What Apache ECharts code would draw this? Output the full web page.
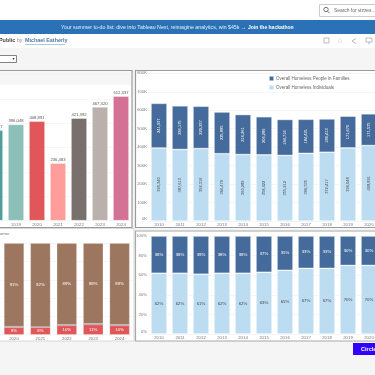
<!DOCTYPE html>
<html>
<head>
<meta charset="utf-8">
<style>
html, body { margin: 0; padding: 0; background: #fff; overflow: hidden; }
#main { width: 375px; height: 375px; }
</style>
<script src="https://cdn.jsdelivr.net/npm/echarts@6/dist/echarts.min.js"></script>
</head>
<body>
<div id="main"></div>
<script>
var font = '"Liberation Sans", Arial, sans-serif';

// top left: overall homeless individuals by year
var totalYears = ['2018', '2019', '2020', '2021', '2022', '2023', '2024'];
var totalValues = [372417, 396048, 408891, 236483, 421392, 467320, 512337];
var totalColors = ['#4e9f9b', '#8bbfb8', '#e15759', '#ff9d9a', '#79706e', '#bab0ac', '#d37295'];

// bottom left: share by year
var shareYears = ['2020', '2021', '2022', '2023', '2024'];
var shareRed = [8, 8, 10, 11, 10];
var shareGrey = [1, 0.5, 1, 1, 1];
var shareBrown = [91, 91.5, 89, 88, 89];

// right: individuals and people in families
var years = ['2010', '2011', '2012', '2013', '2014', '2015', '2016', '2017', '2018', '2019', '2020'];
var individuals = [395340, 387613, 392316, 364479, 360289, 358422, 355212, 366535, 372417, 396048, 408891];
var families = [241937, 236175, 229237, 225885, 216261, 206286, 194716, 184421, 180413, 171670, 171575];
var individualsPct = [62, 62, 61, 62, 62, 63, 65, 67, 67, 70, 70];
var familiesPct = [38, 38, 39, 38, 38, 37, 35, 33, 33, 30, 30];

var familyName = 'Overall Homeless People in Families';
var singleName = 'Overall Homeless Individuals';
var familyColor = '#456b9c';
var singleColor = '#bcdcf1';

function thousands(p) {
    return String(p.value).replace(/\B(?=(\d{3})+$)/g, ',');
}

function percent(p) {
    return Math.round(p.value) + '%';
}

function kilo(v) {
    return (v / 1000) + 'K';
}

function rect(x, y, w, h, fill, stroke, lineWidth) {
    return {
        type: 'rect', z: -10, silent: true,
        shape: { x: x, y: y, width: w, height: h },
        style: { fill: fill, stroke: stroke || null, lineWidth: lineWidth || 0 }
    };
}

function text(x, y, str, size, color, weight) {
    return {
        type: 'text', z: 10, silent: true, x: x, y: y,
        style: {
            text: str, fill: color, font: (weight || 'normal') + ' ' + size + 'px ' + font,
            textVerticalAlign: 'middle'
        }
    };
}

function line(x1, y1, x2, y2, color, width) {
    return {
        type: 'line', z: 10, silent: true,
        shape: { x1: x1, y1: y1, x2: x2, y2: y2 },
        style: { stroke: color, lineWidth: width || 1 }
    };
}

var graphics = [
    rect(0, 0, 375, 375, '#ffffff'),
    rect(0, 48, 375, 327, '#f5f5f5'),
    // search box
    rect(319.5, 4.5, 60, 12, '#ffffff', '#cccccc', 1),
    { type: 'circle', z: 10, silent: true, shape: { cx: 326, cy: 9.5, r: 2.2 }, style: { fill: 'none', stroke: '#555', lineWidth: 0.8 } },
    line(327.6, 11.2, 329.5, 13.2, '#555', 0.8),
    text(334, 10.5, 'Search for vizzes...', 4.9, '#666666'),
    // banner
    rect(0, 20, 375, 14, '#2a72b5'),
    text(61, 27.5, 'Your summer to-do list: dive into Tableau Next, reimagine analytics, win $45k \u2192', 5.25, '#e6f0f8'),
    text(248, 27.5, 'Join the hackathon', 5, '#ffffff', 'bold'),
    // title row
    text(-1, 41, 'Public', 5.4, '#444444', 'bold'),
    text(17, 41, 'by', 5, '#888888'),
    text(25, 41, 'Michael Eatherly', 5.4, '#4d7da8', 'bold'),
    line(25, 44.5, 65, 44.5, '#7fa3c4', 0.6),
    rect(324, 38, 5, 5, 'none', '#aaaaaa', 0.8),
    text(337, 41, '\u2606', 7, '#aaaaaa'),
    line(352, 41, 356, 38.5, '#aaaaaa', 0.8),
    line(352, 41, 356, 43.5, '#aaaaaa', 0.8),
    rect(366, 38, 6, 4, 'none', '#aaaaaa', 0.8),
    line(369, 42, 369, 44.5, '#aaaaaa', 0.8),
    // dropdown
    rect(-1, 55.5, 17.5, 7, '#ffffff', '#666666', 0.8),
    { type: 'polygon', z: 10, silent: true, shape: { points: [[12.5, 58], [14.5, 58], [13.5, 60]] }, style: { fill: '#333' } },
    // panels
    rect(-2, 70.5, 134, 157, '#ffffff', '#9a9a9a', 1.2),
    rect(0, 71.2, 131, 13.5, '#f6f6f6'),
    rect(135.5, 70.5, 242, 157, '#ffffff', '#9a9a9a', 1.2),
    rect(-2, 228.5, 136, 112.5, '#ffffff', '#c0c0c0', 0.6),
    rect(135.5, 231, 242, 110, '#ffffff', '#a8a8a8', 1.2),
    text(0, 234, 'omer', 4.2, '#777777'),
    // button
    rect(353, 343, 24, 12, '#3300ff'),
    text(361, 349, 'Circle', 5.5, '#ffffff', 'bold')
];

var gridLine = { show: true, lineStyle: { color: '#f0f0f0', width: 0.6 } };
var barBorder = { borderColor: 'rgba(255,255,255,0.55)', borderWidth: 0.7 };

function catAxis(index, data) {
    return {
        type: 'category', gridIndex: index, data: data,
        axisLine: { show: false }, axisTick: { show: false },
        axisLabel: { fontSize: 4.3, color: '#777777', fontFamily: font, margin: 2.2, interval: 0 }
    };
}

function valueAxis(index, max, interval, showLabel, formatter) {
    return {
        type: 'value', gridIndex: index, min: 0, max: max, interval: interval,
        splitLine: gridLine, axisLine: { show: false }, axisTick: { show: false },
        axisLabel: {
            show: showLabel, fontSize: 4.2, color: '#777777', fontFamily: font,
            margin: 1.5, formatter: formatter, verticalAlignMinLabel: 'bottom'
        }
    };
}

function barLabel(color, size, rotate, formatter, position) {
    return {
        show: true, position: position || 'inside', rotate: rotate, color: color,
        fontSize: size, fontFamily: font, formatter: formatter
    };
}

function panelGrid(left, top, width, height) {
    return { left: left, top: top, width: width, height: height, outerBoundsMode: 'none' };
}

var option = {
    animation: false,
    textStyle: { fontFamily: font },
    graphic: graphics,
    legend: {
        left: 268, top: 75, orient: 'vertical', itemWidth: 5, itemHeight: 5,
        itemGap: 2, padding: 0, data: [familyName, singleName],
        textStyle: { fontSize: 4.5, lineHeight: 5, color: '#666666', fontFamily: font, padding: [0, 0, 0, -3] }
    },
    grid: [
        panelGrid(-15.5, 74.7, 147, 146),
        panelGrid(0.8, 243.3, 132, 91.4),
        panelGrid(148.5, 73.3, 231, 147.7),
        panelGrid(148.5, 236, 231, 98)
    ],
    xAxis: [
        catAxis(0, totalYears),
        catAxis(1, shareYears),
        catAxis(2, years),
        catAxis(3, years)
    ],
    yAxis: [
        valueAxis(0, 600000, 100000, false),
        valueAxis(1, 100, 20, false),
        valueAxis(2, 800000, 100000, true, kilo),
        valueAxis(3, 100, 20, true, '{value}%')
    ],
    series: [
        {
            type: 'bar', xAxisIndex: 0, yAxisIndex: 0, barWidth: 16, data: totalValues,
            itemStyle: Object.assign({ color: function(p) { return totalColors[p.dataIndex]; } }, barBorder),
            label: Object.assign(barLabel('#555555', 4.2, 0, thousands, 'top'), { distance: 1.5 })
        },
        {
            name: 'Red', type: 'bar', stack: 'share', xAxisIndex: 1, yAxisIndex: 1, barWidth: 20, data: shareRed,
            itemStyle: { color: '#e15759', borderColor: 'rgba(255,255,255,0.35)', borderWidth: 0.5 },
            label: barLabel('#ffffff', 4.3, 0, percent)
        },
        {
            name: 'Grey', type: 'bar', stack: 'share', xAxisIndex: 1, yAxisIndex: 1, barWidth: 20, data: shareGrey,
            itemStyle: { color: '#9c8a90' }
        },
        {
            name: 'Brown', type: 'bar', stack: 'share', xAxisIndex: 1, yAxisIndex: 1, barWidth: 20, data: shareBrown,
            itemStyle: { color: '#9d7660', borderColor: 'rgba(255,255,255,0.35)', borderWidth: 0.5 },
            label: barLabel('#ffffff', 4.3, 0, percent)
        },
        {
            name: singleName, type: 'bar', stack: 'count', xAxisIndex: 2, yAxisIndex: 2, barWidth: 16, data: individuals,
            itemStyle: Object.assign({ color: singleColor }, barBorder),
            label: barLabel('#444444', 4, 90, thousands)
        },
        {
            name: familyName, type: 'bar', stack: 'count', xAxisIndex: 2, yAxisIndex: 2, barWidth: 16, data: families,
            itemStyle: Object.assign({ color: familyColor }, barBorder),
            label: barLabel('#ffffff', 4, 90, thousands)
        },
        {
            name: singleName, type: 'bar', stack: 'pct', xAxisIndex: 3, yAxisIndex: 3, barWidth: 16, data: individualsPct,
            itemStyle: Object.assign({ color: singleColor }, barBorder),
            label: barLabel('#444444', 4.3, 0, percent)
        },
        {
            name: familyName, type: 'bar', stack: 'pct', xAxisIndex: 3, yAxisIndex: 3, barWidth: 16, data: familiesPct,
            itemStyle: Object.assign({ color: familyColor }, barBorder),
            label: barLabel('#ffffff', 4.3, 0, percent)
        }
    ]
};

var chart = echarts.init(document.getElementById('main'));
chart.setOption(option);
</script>
</body>
</html>
